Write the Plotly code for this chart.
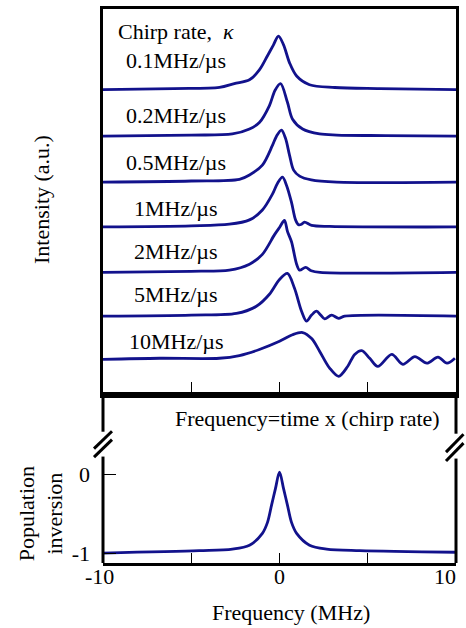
import plotly.graph_objects as go

# ---------------- data ----------------
# Top panel: intensity traces (a.u., relative to own baseline) vs frequency (MHz)
freq_01 = [-10, -6, -3.4, -2.56, -1.7, -1.14, -0.68, -0.34, -0.06, 0.23, 0.57, 0.97, 1.7, 3.13, 5.68, 10]
int_01 = [0, 0.02, 0.04, 0.11, 0.18, 0.36, 0.62, 0.82, 0.98, 0.82, 0.49, 0.25, 0.09, 0.04, 0.02, 0]

freq_02 = [-10, -5, -2.67, -1.7, -1.14, -0.57, -0.25, 0.06, 0.45, 0.74, 1.31, 2.27, 3.24, 6, 10]
int_02 = [0, 0.02, 0.04, 0.13, 0.25, 0.56, 0.84, 0.96, 0.62, 0.31, 0.13, 0.04, 0.02, 0.01, 0]

freq_05 = [-10, -5, -2.27, -1.7, -0.97, -0.40, -0.17, 0.11, 0.34, 0.57, 0.80, 1.14, 1.8, 3.24, 10]
int_05 = [0, 0.02, 0.05, 0.13, 0.31, 0.67, 0.84, 0.95, 0.80, 0.49, 0.22, 0.11, 0.04, 0, 0]

freq_1 = [-10, -5, -2.84, -1.7, -0.97, -0.40, -0.11, 0.17, 0.40, 0.68, 0.91, 1.08, 1.25, 1.42, 1.82, 2.84, 10]
int_1 = [0, 0.02, 0.05, 0.13, 0.31, 0.60, 0.80, 0.91, 0.76, 0.45, 0.13, 0.04, 0.05, 0.09, 0.03, 0.01, 0]

freq_2 = [-10, -5, -2.84, -1.7, -0.97, -0.28, 0, 0.28, 0.45, 0.68, 0.97, 1.14, 1.48, 1.8, 2.3, 10]
int_2 = [0, 0.02, 0.04, 0.15, 0.33, 0.69, 0.82, 0.95, 0.75, 0.56, 0.15, 0.04, 0.09, 0.03, 0, 0]

freq_5 = [-10, -5, -2.44, -1.31, -0.57, 0, 0.45, 0.85, 1.25, 1.53, 1.82, 2.10, 2.33, 2.56, 2.95, 3.35, 3.69, 10]
int_5 = [0, 0.02, 0.05, 0.18, 0.40, 0.67, 0.78, 0.51, 0.09, -0.09, 0.02, 0.09, 0.02, -0.05, 0.02, -0.04, 0, 0]

freq_10 = [-10, -6.8, -3.41, -2.27, -1.14, 0, 0.74, 1.31, 1.82, 2.27, 2.84, 3.35, 3.86, 4.26, 4.66,
           5.11, 5.57, 6.36, 6.99, 7.67, 8.35, 8.98, 9.49, 9.94]
int_10 = [0, 0.02, 0.02, 0.07, 0.18, 0.33, 0.45, 0.49, 0.38, 0.15, -0.16, -0.31, -0.13, 0.09, 0.16,
          0.02, -0.13, 0.09, -0.09, 0.05, -0.07, 0.04, -0.07, 0.02]

chirp_labels = ["0.1MHz/µs", "0.2MHz/µs", "0.5MHz/µs", "1MHz/µs", "2MHz/µs", "5MHz/µs", "10MHz/µs"]
offsets = [5.58, 4.73, 3.89, 3.07, 2.24, 1.44, 0.65]

# Bottom panel: population inversion vs frequency
freq_pop = [-10, -4.55, -2.67, -1.7, -0.97, -0.68, -0.45, -0.23, 0, 0.23, 0.45, 0.68, 0.97, 1.7, 2.67, 4.55, 10]
pop_inv = [-1.0, -0.97, -0.95, -0.90, -0.75, -0.61, -0.39, -0.18, 0.03, -0.18, -0.39, -0.61, -0.75, -0.90, -0.95, -0.97, -0.99]

xtick_vals = [-10, 0, 10]
ytick_vals = [0, -1]

# ---------------- figure ----------------
W, H = 466, 628
L, R, T, B = 103, 10, 6, 65
PW, PH = W - L - R, H - T - B
BOTTOM_PX = H - B


def px(x):
    return (x - L) / PW


def py(y):
    return (BOTTOM_PX - y) / PH


split = py(394)
FONT = "'Liberation Serif', 'Times New Roman', 'DejaVu Serif', serif"
FS = 22
LINE = "#12128c"

curves = [(freq_01, int_01), (freq_02, int_02), (freq_05, int_05), (freq_1, int_1),
          (freq_2, int_2), (freq_5, int_5), (freq_10, int_10)]

fig = go.Figure()
for (f, v), off, lab in zip(curves, offsets, chirp_labels):
    fig.add_trace(go.Scatter(x=f, y=[a + off for a in v], mode="lines", name=lab,
                             line=dict(color=LINE, width=2.8, shape="spline", smoothing=0.9),
                             xaxis="x", yaxis="y"))

fig.add_trace(go.Scatter(x=freq_pop, y=pop_inv, mode="lines", name="Population inversion",
                         line=dict(color=LINE, width=2.8, shape="spline", smoothing=0.9),
                         xaxis="x2", yaxis="y2"))

fig.update_layout(
    width=W, height=H, margin=dict(l=L, r=R, t=T, b=B),
    paper_bgcolor="white", plot_bgcolor="white", showlegend=False,
    font=dict(family=FONT, size=FS, color="black"),
    xaxis=dict(domain=[0, 1], anchor="y", range=[-10, 10], showline=True, mirror=True,
               linewidth=3, linecolor="black", ticks="inside", tickvals=[-5, 0, 5],
               ticklen=13, tickwidth=1.3, tickcolor="black", showticklabels=False,
               showgrid=False, zeroline=False),
    yaxis=dict(domain=[split, 1], anchor="x", range=[0, 388 / 55], showline=True, mirror=True,
               linewidth=3, linecolor="black", ticks="", showticklabels=False,
               showgrid=False, zeroline=False),
    xaxis2=dict(domain=[0, 1], anchor="y2", range=[-10, 10], showline=True, mirror=True,
                linewidth=3, linecolor="black", ticks="inside", tickvals=[-5, 0, 5],
                ticklen=10, tickwidth=1.3, tickcolor="black", showticklabels=False,
                showgrid=False, zeroline=False),
    yaxis2=dict(domain=[0, split], anchor="x2", range=[-1 - 10 / 79, 80 / 79], showline=False,
                ticks="inside", tickvals=ytick_vals, ticktext=[str(v) for v in ytick_vals],
                ticklen=13, tickwidth=1.3, tickcolor="black", ticklabelstandoff=12,
                tickfont=dict(family=FONT, size=FS, color="black"),
                showgrid=False, zeroline=False),
)

# spines of the lower panel with axis breaks
shapes = []
seg = [((103, 394), (103, 431)), ((103, 456), (103, BOTTOM_PX)),
       ((456, 394), (456, 433)), ((456, 458), (456, BOTTOM_PX)),
       ((94, 448), (112, 430.5)), ((94, 456.5), (112, 439)),
       ((446, 451.5), (463.5, 433.5)), ((446, 460.5), (463.5, 442.5))]
for (x0, y0), (x1, y1) in seg:
    shapes.append(dict(type="line", xref="paper", yref="paper",
                       x0=px(x0), y0=py(y0), x1=px(x1), y1=py(y1),
                       line=dict(color="black", width=3)))
fig.update_layout(shapes=shapes)

ann = []


def text(s, x, y, size=FS, angle=0, xanchor="center"):
    ann.append(dict(text=s, x=px(x), y=py(y), xref="paper", yref="paper", showarrow=False,
                    xanchor=xanchor, yanchor="middle", textangle=angle,
                    font=dict(family=FONT, size=size, color="black")))


text("Chirp rate,  <i>κ</i>", 116, 29, xanchor="left")
label_y = [58, 113, 160, 207, 250, 293, 340]
for lab, yy in zip(chirp_labels, label_y):
    text(lab, 176, yy)
text("Intensity (a.u.)", 42, 198, angle=-90)
text("Frequency=time x (chirp rate)", 307, 418)
text("Population<br>inversion", 41, 514, angle=-90)
text("Frequency (MHz)", 291, 613)
for v, xx in zip(xtick_vals, [99, 279, 445]):
    text(str(v), xx, 577)
fig.update_layout(annotations=ann)

fig.write_html("out.html", config={"displayModeBar": False})
